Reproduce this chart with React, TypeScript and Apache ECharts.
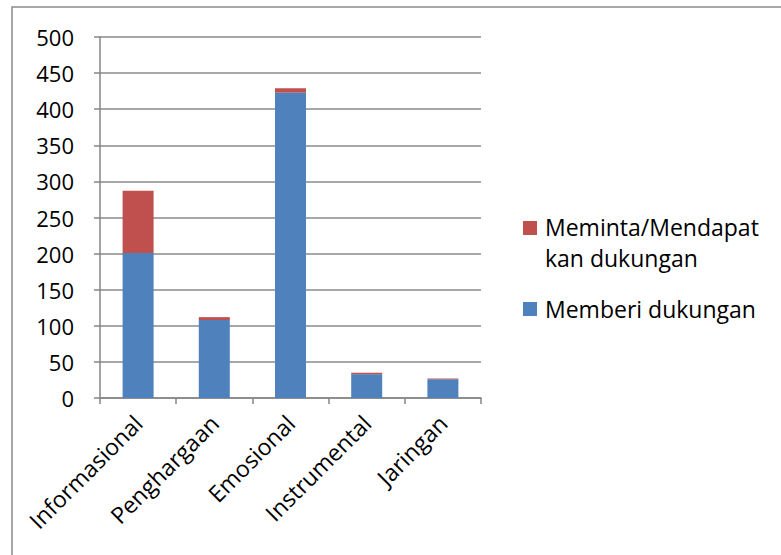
import React, { useEffect, useRef } from "react";
import * as echarts from "echarts";

const categories = ["Informasional", "Penghargaan", "Emosional", "Instrumental", "Jaringan"];
const memberi = [201, 108, 423, 33, 26];
const meminta = [86, 4, 6, 2, 1];
const yTicks = { min: 0, max: 500, interval: 50 };
const legendLabels = ["Meminta/Mendapat\nkan dukungan", "Memberi dukungan"];
const colors = { memberi: "#4F81BD", meminta: "#C0504D" };

export default function App() {
  const ref = useRef<HTMLDivElement>(null);
  useEffect(() => {
    const chart = echarts.init(ref.current!, null, { renderer: "svg" });
    const font = "'Open Sans', sans-serif";
    const legendFont = 23;
    chart.setOption({
      animation: false,
      backgroundColor: "#fff",
      grid: { left: 100, right: 300, top: 37, bottom: 157 },
      graphic: [
        {
          type: "rect",
          shape: { x: 12, y: 7, width: 900, height: 700 },
          style: { fill: "none", stroke: "#8a8a8a", lineWidth: 1.5 },
          silent: true,
        },
        {
          type: "rect",
          shape: { x: 523, y: 221, width: 14, height: 14 },
          style: { fill: colors.meminta },
        },
        {
          type: "text",
          top: 211,
          left: 545,
          style: {
            text: legendLabels[0],
            fontFamily: font,
            fontSize: legendFont,
            lineHeight: 31,
            fill: "#000",
          },
        },
        {
          type: "rect",
          shape: { x: 523, y: 302, width: 14, height: 14 },
          style: { fill: colors.memberi },
        },
        {
          type: "text",
          left: 545,
          top: 293,
          style: {
            text: legendLabels[1],
            fontFamily: font,
            fontSize: legendFont,
            lineHeight: 31,
            fill: "#000",
          },
        },
      ],
      xAxis: {
        type: "category",
        data: categories,
        axisLine: { lineStyle: { color: "#868686", width: 1.5 } },
        axisTick: { show: true, length: 6, lineStyle: { color: "#868686", width: 1.5 } },
        axisLabel: { rotate: 45, fontFamily: font, fontSize: 23, color: "#000", margin: 21, interval: 0 },
      },
      yAxis: {
        type: "value",
        min: yTicks.min,
        max: yTicks.max,
        interval: yTicks.interval,
        axisLine: { show: true, lineStyle: { color: "#868686", width: 1.5 } },
        axisTick: { show: true, length: 6, lineStyle: { color: "#868686", width: 1.5 } },
        splitLine: { lineStyle: { color: "#8a8a8a", width: 1.5 } },
        axisLabel: { fontFamily: font, fontSize: 22, color: "#000", margin: 26 },
      },
      series: [
        {
          name: "Memberi dukungan",
          type: "bar",
          stack: "s",
          barWidth: 31,
          data: memberi,
          itemStyle: { color: colors.memberi },
        },
        {
          name: "Meminta/Mendapatkan dukungan",
          type: "bar",
          stack: "s",
          barWidth: 31,
          data: meminta,
          itemStyle: { color: colors.meminta },
        },
      ],
    });
    return () => chart.dispose();
  }, []);
  return (
    <div
      ref={ref}
      style={{ position: "fixed", left: 0, top: 0, width: 781, height: 555 }}
    />
  );
}
